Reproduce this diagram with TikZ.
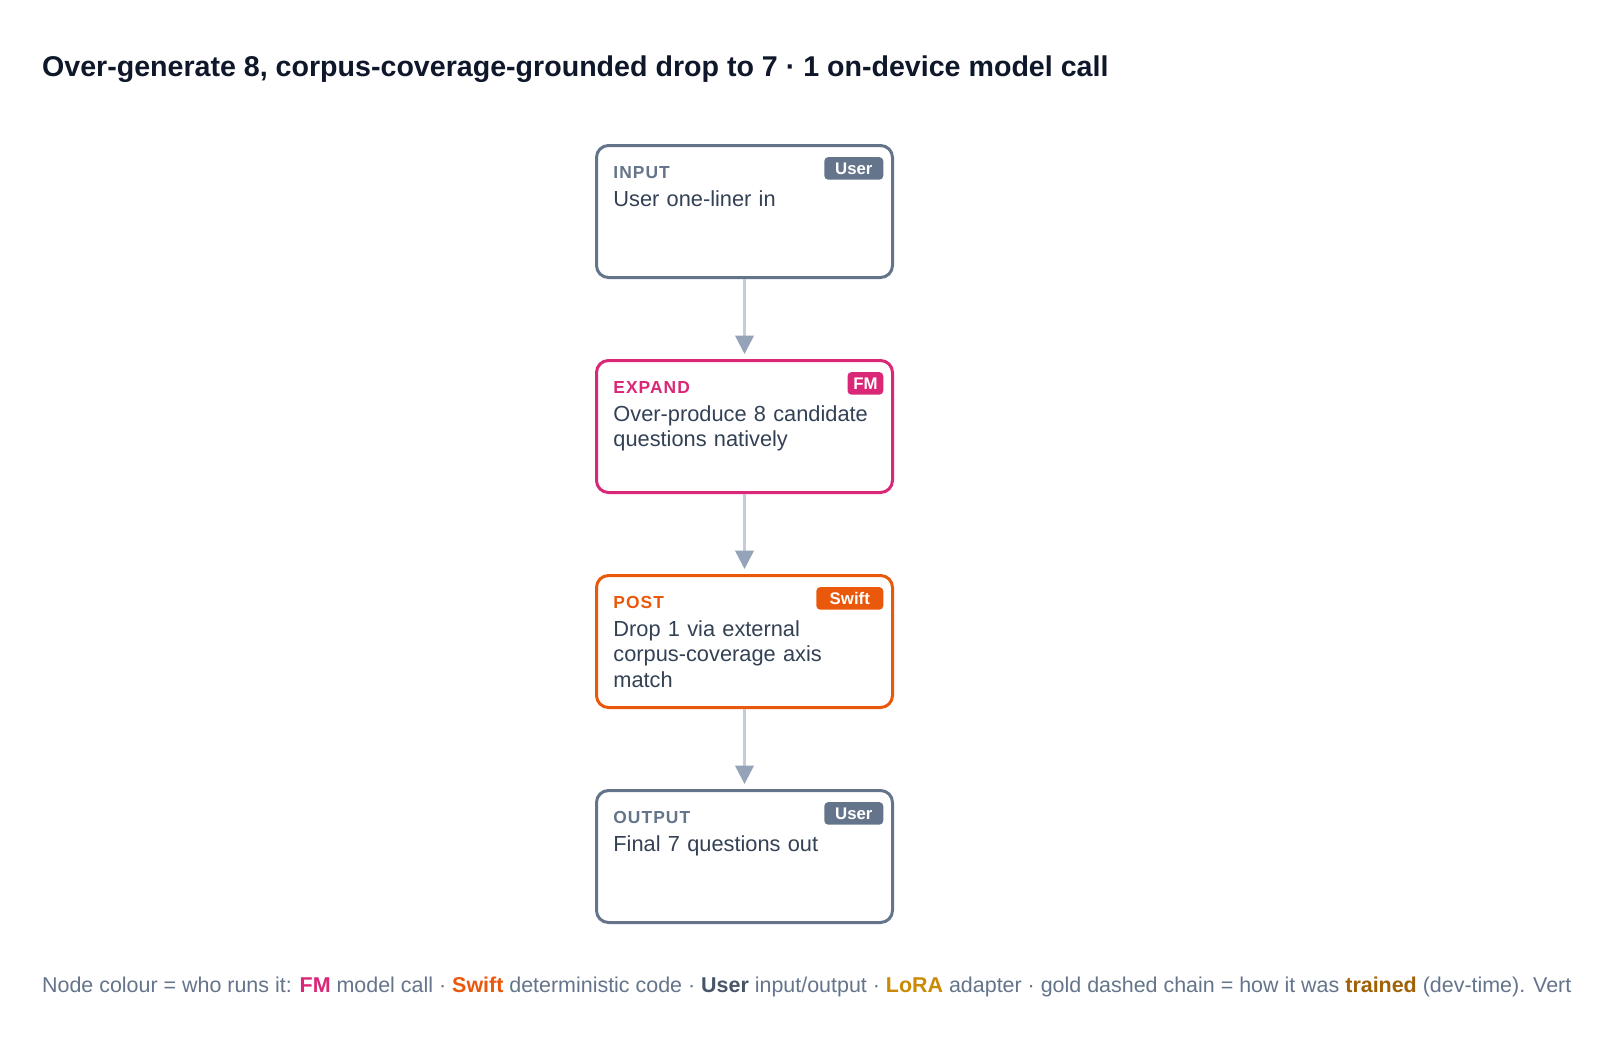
\documentclass[tikz,border=0pt]{standalone}
\usepackage{fontspec}
\setmainfont{Liberation Sans}
\newfontfamily\tagfont[LetterSpace=6]{Liberation Sans}
\usetikzlibrary{positioning,arrows.meta}
\definecolor{userC}{HTML}{64748B}
\definecolor{userD}{HTML}{475569}
\definecolor{fmC}{HTML}{DB2777}
\definecolor{swiftC}{HTML}{EA580C}
\definecolor{bodyC}{HTML}{334155}
\definecolor{titleC}{HTML}{0F172A}
\definecolor{arrowC}{HTML}{94A3B8}
\definecolor{lineC}{HTML}{C3CCD8}
\definecolor{loraC}{HTML}{CA8A04}
\definecolor{trainC}{HTML}{A16207}

\begin{document}
\begin{tikzpicture}[x=0.5pt,y=-0.5pt,
  stage/.style={draw=#1, line width=1.5pt, rounded corners=6pt, fill=white,
    minimum width=148pt, minimum height=66pt, inner sep=0pt},
  tag/.style={text=#1, font=\tagfont\bfseries\fontsize{8.7}{10}\selectfont,
    anchor=base west, inner sep=0pt},
  body/.style={text=bodyC, font=\fontsize{10.9}{12.75}\selectfont,
    text width=135pt, align=left, anchor=base west, inner sep=0pt},
  badge/.style={fill=#1, text=white, font=\bfseries\fontsize{8.4}{9}\selectfont,
    rounded corners=2pt, minimum height=11.3pt, inner sep=0pt,
    anchor=north east},
  flow/.style={draw=lineC, line width=1.25pt,
    -{Triangle[width=9.2pt,length=9.2pt,color=arrowC]}, shorten >=2.5pt}]
\useasboundingbox[fill=white] (0,0) rectangle (1600,1056);

%% title
\node[anchor=base west, inner sep=0pt, text=titleC,
  font=\bfseries\fontsize{14.3}{16}\selectfont] (title) at (41.7,76)
  {Over-generate 8, corpus-coverage-grounded drop to 7 · 1 on-device model call};

%% stages
\node[stage=userC] (input) at (744.5,211.5) {};
\node[stage=fmC, below=40pt of input] (expand) {};
\node[stage=swiftC, below=40pt of expand] (post) {};
\node[stage=userC, below=40pt of post] (output) {};

%% input
\node[tag=userC] (inputTag) at ([shift={(18,34.4)}]input.north west) {INPUT};
\node[body] (inputText) at ([shift={(18,62)}]input.north west) {User one-liner in};
\node[badge=userC, minimum width=29.5pt] (inputBadge)
  at ([shift={(-10.3,12.7)}]input.north east) {User};
%% expand
\node[tag=fmC] (expandTag) at ([shift={(18,34.4)}]expand.north west) {EXPAND};
\node[body] (expandText) at ([shift={(18,62)}]expand.north west)
  {Over-produce 8 candidate\\questions natively};
\node[badge=fmC, minimum width=17.9pt] (expandBadge)
  at ([shift={(-10.3,12.7)}]expand.north east) {FM};
%% post
\node[tag=swiftC] (postTag) at ([shift={(18,34.4)}]post.north west) {POST};
\node[body] (postText) at ([shift={(18,62)}]post.north west)
  {Drop 1 via external\\corpus-coverage axis\\match};
\node[badge=swiftC, minimum width=33.5pt] (postBadge)
  at ([shift={(-10.3,12.7)}]post.north east) {Swift};
%% output
\node[tag=userC] (outputTag) at ([shift={(18,34.4)}]output.north west) {OUTPUT};
\node[body] (outputText) at ([shift={(18,62)}]output.north west) {Final 7 questions out};
\node[badge=userC, minimum width=29.5pt] (outputBadge)
  at ([shift={(-10.3,12.7)}]output.north east) {User};

%% flow
\draw[flow] (input) -- (expand);
\draw[flow] (expand) -- (post);
\draw[flow] (post) -- (output);

%% legend
\node[anchor=base west, inner sep=0pt, text=userC, font=\fontsize{10.72}{13}\selectfont]
  (legend) at (41.7,992.7)
  {Node colour = who runs it: \textbf{\color{fmC}FM} model call ·
   \textbf{\color{swiftC}Swift} deterministic code ·
   \textbf{\color{userD}User} input/output ·
   \textbf{\color{loraC}LoRA} adapter · gold dashed chain = how it was
   \textbf{\color{trainC}trained} (dev-time). Vert};
\end{tikzpicture}
\end{document}
